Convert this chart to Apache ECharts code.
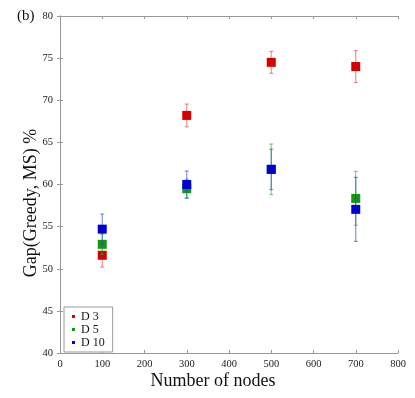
<!DOCTYPE html>
<html>
<head>
<meta charset="utf-8">
<script src="https://cdn.jsdelivr.net/npm/echarts@6/dist/echarts.min.js"></script>
<style>
  html, body { margin: 0; padding: 0; background: #fff; }
  #chart { width: 415px; height: 398px; }
</style>
</head>
<body>
<div id="chart"></div>
<script>
// node counts on the x axis
var nodes = [100, 300, 500, 700];
// gap values (%) and error half-widths
var d3Gap = [51.6, 68.2, 74.5, 74.0];
var d3Err = [1.4, 1.35, 1.3, 1.9];
var d5Gap = [52.9, 59.5, 61.8, 58.35];
var d5Err = [1.2, 1.15, 3.0, 3.2];
var d10Gap = [54.7, 60.0, 61.8, 57.05];
var d10Err = [1.8, 1.6, 2.4, 3.8];

var seriesNames = ["D 3", "D 5", "D 10"];
var markColors = ["#d40000", "#119a11", "#0000d0"];
var barColors = ["rgba(220,60,60,0.55)", "rgba(40,170,40,0.55)", "rgba(40,60,210,0.55)"];

var serif = "Liberation Serif, Times New Roman, serif";

function points(vals) {
  return nodes.map(function (n, i) { return [n, vals[i]]; });
}
function errPoints(vals, errs) {
  return nodes.map(function (n, i) { return [n, vals[i] - errs[i], vals[i] + errs[i]]; });
}

// vertical error bar with small caps
function errorBar(color) {
  return function (params, api) {
    var lo = api.coord([api.value(0), api.value(1)]);
    var hi = api.coord([api.value(0), api.value(2)]);
    var w = 2;
    var style = { stroke: color, lineWidth: 1.2 };
    return {
      type: "group",
      children: [
        { type: "line", shape: { x1: hi[0], y1: hi[1], x2: lo[0], y2: lo[1] }, style: style },
        { type: "line", shape: { x1: hi[0] - w, y1: hi[1], x2: hi[0] + w, y2: hi[1] }, style: style },
        { type: "line", shape: { x1: lo[0] - w, y1: lo[1], x2: lo[0] + w, y2: lo[1] }, style: style }
      ]
    };
  };
}

var gaps = [d3Gap, d5Gap, d10Gap];
var errs = [d3Err, d5Err, d10Err];

var series = [];
gaps.forEach(function (g, k) {
  series.push({
    type: "custom",
    name: seriesNames[k] + " err",
    renderItem: errorBar(barColors[k]),
    data: errPoints(g, errs[k]),
    z: 2 + k * 2
  });
});
gaps.forEach(function (g, k) {
  series.push({
    type: "scatter",
    name: seriesNames[k],
    symbol: "rect",
    symbolSize: 9,
    itemStyle: { color: markColors[k], opacity: 1 },
    data: points(g),
    z: 3 + k * 2
  });
});

var axisLine = { show: true, lineStyle: { color: "#999", width: 1 } };
var tickIn = { show: true, inside: true, length: 3, lineStyle: { color: "#999" } };
var labelStyle = { color: "#222", fontFamily: serif, fontSize: 10.5 };

var option = {
  animation: false,
  backgroundColor: "#fff",
  grid: { left: 60, top: 16, right: 17, bottom: 45 },
  legend: {
    data: seriesNames,
    orient: "vertical",
    left: 64,
    top: 307,
    icon: "rect",
    itemWidth: 3,
    itemHeight: 3,
    itemGap: 0,
    padding: [3, 8, 3, 8],
    borderColor: "#999",
    borderWidth: 1,
    backgroundColor: "#fff",
    textStyle: { fontFamily: serif, fontSize: 12, color: "#111", lineHeight: 13, padding: [0, 0, 0, 1] }
  },
  xAxis: [
    {
      type: "value", min: 0, max: 800, interval: 100,
      axisLine: axisLine, axisTick: tickIn, splitLine: { show: false },
      axisLabel: Object.assign({ margin: 6 }, labelStyle)
    },
    {
      type: "value", position: "top", min: 0, max: 800, interval: 100,
      axisLine: axisLine, axisTick: tickIn, splitLine: { show: false },
      axisLabel: { show: false }
    }
  ],
  yAxis: [
    {
      type: "value", min: 40, max: 80, interval: 5,
      axisLine: axisLine, axisTick: tickIn, splitLine: { show: false },
      axisLabel: Object.assign({ margin: 7 }, labelStyle)
    },
    {
      type: "value", position: "right", min: 40, max: 80, interval: 5,
      axisLine: axisLine, axisTick: tickIn, splitLine: { show: false },
      axisLabel: { show: false }
    }
  ],
  graphic: [
    {
      type: "text", left: 17, top: 9,
      style: { text: "(b)", font: "15px " + serif, fill: "#111" }
    },
    {
      type: "text", x: 213, y: 381,
      style: { text: "Number of nodes", font: "18px " + serif, fill: "#111", align: "center", verticalAlign: "middle" }
    },
    {
      type: "text", x: 31, y: 203, rotation: Math.PI / 2,
      style: { text: "Gap(Greedy, MS) %", font: "18px " + serif, fill: "#111", align: "center", verticalAlign: "middle" }
    }
  ],
  series: series
};

var chart = echarts.init(document.getElementById("chart"));
chart.setOption(option);
</script>
</body>
</html>
